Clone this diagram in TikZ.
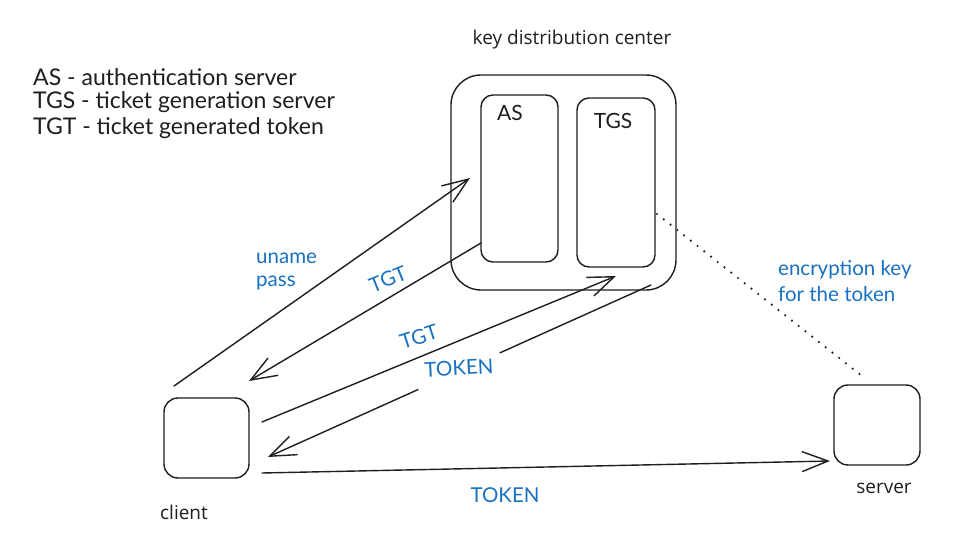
\documentclass[tikz,border=0pt]{standalone}
\usepackage{fontspec}
\setmainfont{Lato}
\newfontfamily\labelfont{Open Sans}
\usetikzlibrary{arrows.meta}
\definecolor{exblue}{RGB}{25,113,194}
\definecolor{exblack}{RGB}{30,30,30}
\tikzset{
  box/.style={draw=exblack, line width=1.4pt, rounded corners=#1, inner sep=0pt},
  box/.default=12pt,
  conn/.style={draw=exblack, line width=1.4pt, line cap=round},
  arr/.style={conn, -{Straight Barb[length=26pt,width=20pt,line width=1.4pt]}},
  bluetxt/.style={text=exblue, font=\fontsize{20.5}{23}\selectfont, inner sep=0pt},
  handtxt/.style={text=exblack, font=\fontsize{23}{25}\selectfont, inner sep=0pt, anchor=west},
  plaintxt/.style={text=exblack, font=\labelfont\fontsize{19}{22}\selectfont, inner sep=0pt},
}
\begin{document}
\begin{tikzpicture}[x=1pt,y=-1pt]
\useasboundingbox (0,0) rectangle (978,543);
\fill[white] (0,0) rectangle (978,543);

% legend
\node[handtxt] (l1) at (33,77) {AS - authentication server};
\node[handtxt] (l2) at (33,102) {TGS - ticket generation server};
\node[handtxt] (l3) at (33,128) {TGT - ticket generated token};

% key distribution center
\node[plaintxt] (kdct) at (572,40) {key distribution center};
\node[box=30pt, minimum width=225pt, minimum height=215pt] (kdc) at (563.5,182.5) {};
\node[box, minimum width=77pt, minimum height=167pt] (as) at (519.5,178.5) {};
\node[box, minimum width=78pt, minimum height=169pt] (tgs) at (616,182.5) {};
\node[handtxt, anchor=center, font=\fontsize{21}{24}\selectfont] (aslbl) at (510,113) {AS};
\node[handtxt, anchor=center, font=\fontsize{21}{24}\selectfont] (tgslbl) at (613,121) {TGS};

% client and server
\node[box=14pt, minimum width=85pt, minimum height=80pt] (client) at (206.5,438) {};
\node[box=14pt, minimum width=86pt, minimum height=80pt] (server) at (877,425) {};
\node[plaintxt] (clientlbl) at (184,512) {client};
\node[plaintxt] (serverlbl) at (884,488) {server};

% connector end points
\coordinate (a1s) at (174,386);
\coordinate (a1e) at (470,178);
\coordinate (a2s) at (481,243);
\coordinate (a2e) at (249,381);
\coordinate (a3s) at (262,422);
\coordinate (a3e) at (616,276);
\coordinate (a4s) at (651,285);
\coordinate (a4g1) at (500,352.8);
\coordinate (a4g2) at (418,389.6);
\coordinate (a4e) at (268,457);
\coordinate (a5s) at (262,473);
\coordinate (a5e) at (830,461);
\coordinate (ds) at (657,214);
\coordinate (de) at (862,376);

\draw[arr] (a1s) -- (a1e);
\draw[arr] (a2s) -- (a2e);
\draw[arr] (a3s) -- (a3e);
\draw[conn] (a4s) -- (a4g1);
\draw[arr] (a4g2) -- (a4e);
\draw[arr] (a5s) -- (a5e);
\draw[draw=exblack, line width=2.4pt, line cap=round, dash pattern=on 0pt off 8.6pt] (ds) -- (de);

% blue labels
\node[bluetxt, anchor=west] (un) at (256,258) {uname};
\node[bluetxt, anchor=west] (pw) at (256,283) {pass};
\node[bluetxt, rotate=22] (tgt1) at (388,279) {TGT};
\node[bluetxt, rotate=18] (tgt2) at (419,337) {TGT};
\node[bluetxt, rotate=3] (tok1) at (459,368) {TOKEN};
\node[bluetxt] (tok2) at (505,495) {TOKEN};
\node[bluetxt, anchor=west] (enc1) at (778,270) {encryption key};
\node[bluetxt, anchor=west] (enc2) at (778,294) {for the token};
\end{tikzpicture}
\end{document}
